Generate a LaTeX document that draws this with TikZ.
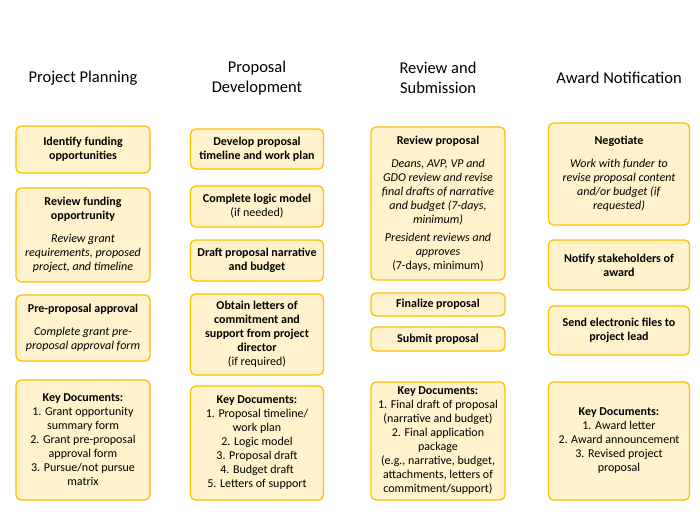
\documentclass[tikz,border=0pt]{standalone}
\usepackage{fontspec}
\setmainfont{Carlito}
\usetikzlibrary{positioning}

\definecolor{boxfill}{HTML}{FFF2CC}
\definecolor{boxline}{HTML}{FFC000}

\tikzset{
  stagebox/.style={draw=boxline, fill=boxfill, line width=1.3pt, rounded corners=5pt,
    align=center, font=\fontsize{12}{14}\selectfont, inner sep=3pt},
  phasetitle/.style={align=center, font=\fontsize{16.5}{19.5}\selectfont}
}

\begin{document}
\begin{tikzpicture}[x=1pt, y=-1pt]
  \useasboundingbox (0,0) rectangle (700,519); % 画像の大きさ

  % 見出し
  \node[phasetitle] (t1) at (83,78) {Project Planning};
  \node[phasetitle] (t2) at (257,78) {Proposal\\Development};
  \node[phasetitle] (t3) at (438,78) {Review and\\Submission};
  \node[phasetitle] (t4) at (619,78) {Award Notification};

  % Project Planning
  \node[stagebox, minimum width=134, minimum height=47] (p1) at (83,149.5)
    {\textbf{Identify funding}\\\textbf{opportunities}};
  \node[stagebox, minimum width=134, minimum height=94] (p2) at (83,235)
    {\textbf{Review funding}\\\textbf{opportrunity}\\[9pt]\textit{Review grant}\\\textit{requirements, proposed}\\\textit{project, and timeline}};
  \node[stagebox, minimum width=134, minimum height=66] (p3) at (83,328)
    {\textbf{Pre-proposal approval}\\[9pt]\textit{Complete grant pre-}\\\textit{proposal approval form}};
  \node[stagebox, minimum width=134, minimum height=120] (p4) at (83,440)
    {\textbf{Key Documents:}\\1. Grant opportunity\\summary form\\2. Grant pre-proposal\\approval form\\3. Pursue/not pursue\\matrix};

  % Proposal Development
  \node[stagebox, minimum width=133, minimum height=40] (d1) at (257,149)
    {\textbf{Develop proposal}\\\textbf{timeline and work plan}};
  \node[stagebox, minimum width=133, minimum height=41] (d2) at (257,206.5)
    {\textbf{Complete logic model}\\(if needed)};
  \node[stagebox, minimum width=133, minimum height=41] (d3) at (257,260.5)
    {\textbf{Draft proposal narrative}\\\textbf{and budget}};
  \node[stagebox, minimum width=133, minimum height=81] (d4) at (257,334.5)
    {\textbf{Obtain letters of}\\\textbf{commitment and}\\\textbf{support from project}\\\textbf{director}\\(if required)};
  \node[stagebox, minimum width=133, minimum height=114] (d5) at (257,443)
    {\textbf{Key Documents:}\\1. Proposal timeline/\\work plan\\2. Logic model\\3. Proposal draft\\4. Budget draft\\5. Letters of support};

  % Review and Submission
  \node[stagebox, minimum width=134, minimum height=153] (r1) at (438,203.5)
    {\textbf{Review proposal}\\[9pt]\textit{Deans, AVP, VP and}\\\textit{GDO review and revise}\\\textit{final drafts of narrative}\\\textit{and budget (7-days,}\\\textit{minimum)}\\[4pt]\textit{President reviews and}\\\textit{approves}\\(7-days, minimum)};
  \node[stagebox, minimum width=134, minimum height=23] (r2) at (438,304.5)
    {\textbf{Finalize proposal}};
  \node[stagebox, minimum width=134, minimum height=24] (r3) at (438,339)
    {\textbf{Submit proposal}};
  \node[stagebox, minimum width=134, minimum height=118] (r4) at (438,441)
    {\textbf{Key Documents:}\\1. Final draft of proposal\\(narrative and budget)\\2. Final application\\package\\(e.g., narrative, budget,\\attachments, letters of\\commitment/support)};

  % Award Notification
  \node[stagebox, minimum width=141, minimum height=102] (a1) at (619,174)
    {\textbf{Negotiate}\\[9pt]\textit{Work with funder to}\\\textit{revise proposal content}\\\textit{and/or budget (if}\\\textit{requested)}};
  \node[stagebox, minimum width=141, minimum height=50] (a2) at (619,265)
    {\textbf{Notify stakeholders of}\\\textbf{award}};
  \node[stagebox, minimum width=141, minimum height=49] (a3) at (619,330.5)
    {\textbf{Send electronic files to}\\\textbf{project lead}};
  \node[stagebox, minimum width=141, minimum height=118] (a4) at (619,441)
    {\textbf{Key Documents:}\\1. Award letter\\2. Award announcement\\3. Revised project\\proposal};
\end{tikzpicture}
\end{document}
